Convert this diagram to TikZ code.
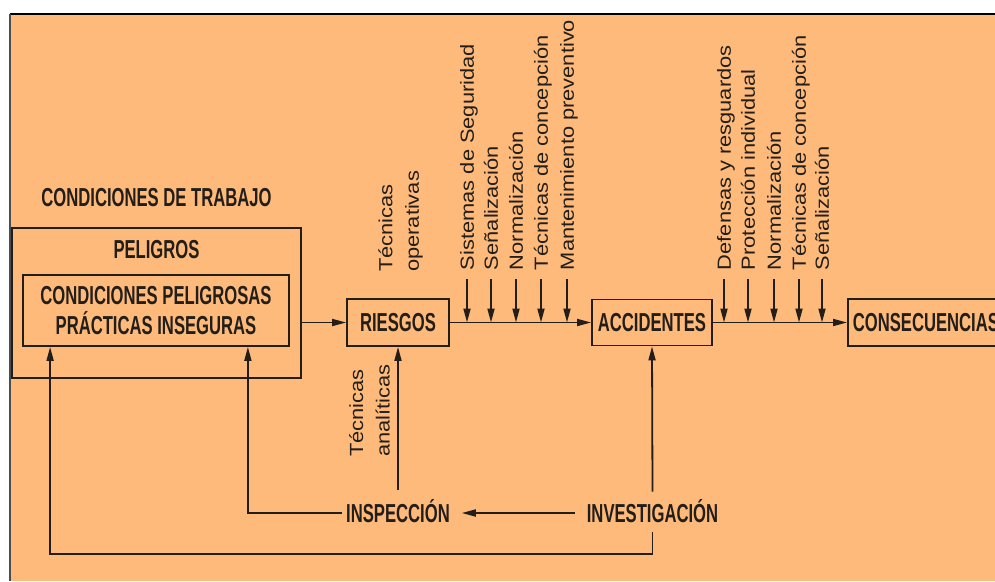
\documentclass[tikz,border=0pt]{standalone}
\usepackage{fontspec}
\usepackage{xcolor}
\setmainfont{Liberation Sans}
\newfontfamily\condensed[FakeStretch=0.64,UprightFont=*-Bold]{Liberation Sans}
\newfontfamily\widened[FakeStretch=1.15]{Liberation Sans}
\usetikzlibrary{arrows.meta,positioning}
\definecolor{sheet}{RGB}{253,186,123}
\definecolor{ink}{RGB}{35,30,25}
\tikzset{
    plain-box/.style = {draw=ink, text=ink, line width=1.8pt, rectangle, inner sep=0pt, font={\condensed\fontsize{26}{30}\selectfont}},
    cap-text/.style = {text=ink, font={\condensed\fontsize{26}{30}\selectfont}, text height=18.6pt, text depth=0pt, inner ysep=0pt, inner xsep=12pt, outer sep=0pt},
    tech-label/.style = {text=ink, font={\widened\fontsize{19}{26.5}\selectfont}, rotate=90, anchor=west, text height=13.6pt, text depth=0pt, inner ysep=0pt, inner xsep=9pt, outer sep=0pt},
    tech-pair/.style = {text=ink, font={\widened\fontsize{19}{26.5}\selectfont}, rotate=90, anchor=south west, align=left, inner sep=0pt},
    flow/.style = {draw=ink, line width=1.8pt, -{Triangle[length=14pt,width=7pt]}},
}

\begin{document}
\begin{tikzpicture}[x=1pt,y=1pt]
\useasboundingbox (0,0) rectangle (995,-581);
\fill[sheet] (10,-14) rectangle (995,-581);
\draw[line width=1.5pt, black] (10,-14) -- (995,-14);
\draw[line width=1.2pt, black!70] (10,-14) -- (10,-581);

\node[plain-box, minimum width=289pt, minimum height=150pt] (peligros) at (156.5,-303) {};
\node[cap-text, below=12.7pt of peligros.north] (peligros-title) {PELIGROS};
\node[cap-text, above=20.7pt of peligros.north] (trabajo) {CONDICIONES DE TRABAJO};
\node[plain-box, minimum width=266pt, minimum height=71pt, align=center] (condiciones) at (156,-310.5) {CONDICIONES PELIGROSAS\\PRÁCTICAS INSEGURAS};
\node[plain-box, minimum width=102pt, minimum height=47pt] (riesgos) at (398,-322.5) {RIESGOS};
\node[plain-box, minimum width=120pt, minimum height=46pt] (accidentes) at (652,-322.5) {ACCIDENTES};
\node[plain-box, minimum height=47pt, inner xsep=5pt, anchor=west] (consecuencias) at (847,-322.5) {CONSECUENCIAS};
\node[cap-text] (inspeccion) at (398,-513) {INSPECCIÓN};
\node[cap-text] (investigacion) at (652.5,-513) {INVESTIGACIÓN};

\node[tech-pair] (operativas) at (423,-272) {Técnicas\\operativas};
\node[tech-pair] (analiticas) at (390,-457) {Técnicas\\analíticas};

\node[tech-label] (sistemas) at (467,-279) {Sistemas de Seguridad};
\node[tech-label] (senal-a) at (491,-279) {Señalización};
\node[tech-label] (norma-a) at (516,-279) {Normalización};
\node[tech-label] (concep-a) at (541,-279) {Técnicas de concepción};
\node[tech-label] (mantenimiento) at (567,-279) {Mantenimiento preventivo};
\node[tech-label] (defensas) at (724,-279) {Defensas y resguardos};
\node[tech-label] (proteccion) at (748,-279) {Protección individual};
\node[tech-label] (norma-b) at (774,-279) {Normalización};
\node[tech-label] (concep-b) at (799,-279) {Técnicas de concepción};
\node[tech-label] (senal-b) at (822,-279) {Señalización};

\draw[flow] (peligros.east |- riesgos.west) -- (riesgos.west);
\draw[flow] (riesgos) -- (accidentes);
\draw[flow] (accidentes) -- (consecuencias);
\draw[flow] (sistemas.west) -- (sistemas.west |- riesgos.east);
\draw[flow] (senal-a.west) -- (senal-a.west |- riesgos.east);
\draw[flow] (norma-a.west) -- (norma-a.west |- riesgos.east);
\draw[flow] (concep-a.west) -- (concep-a.west |- riesgos.east);
\draw[flow] (mantenimiento.west) -- (mantenimiento.west |- riesgos.east);
\draw[flow] (defensas.west) -- (defensas.west |- accidentes.east);
\draw[flow] (proteccion.west) -- (proteccion.west |- accidentes.east);
\draw[flow] (norma-b.west) -- (norma-b.west |- accidentes.east);
\draw[flow] (concep-b.west) -- (concep-b.west |- accidentes.east);
\draw[flow] (senal-b.west) -- (senal-b.west |- accidentes.east);

\draw[flow] ([yshift=14pt]inspeccion.north) -- (riesgos.south);
\draw[flow] ([yshift=12pt]investigacion.north) -- (accidentes.south);
\draw[flow] (investigacion) -- (inspeccion);
\draw[flow] ([xshift=8pt]inspeccion.west) -| ([xshift=-42pt]condiciones.south east);
\draw[flow] ([yshift=-10pt]investigacion.south) -- ++(0,-22) -| ([xshift=28pt]condiciones.south west);
\end{tikzpicture}
\end{document}
